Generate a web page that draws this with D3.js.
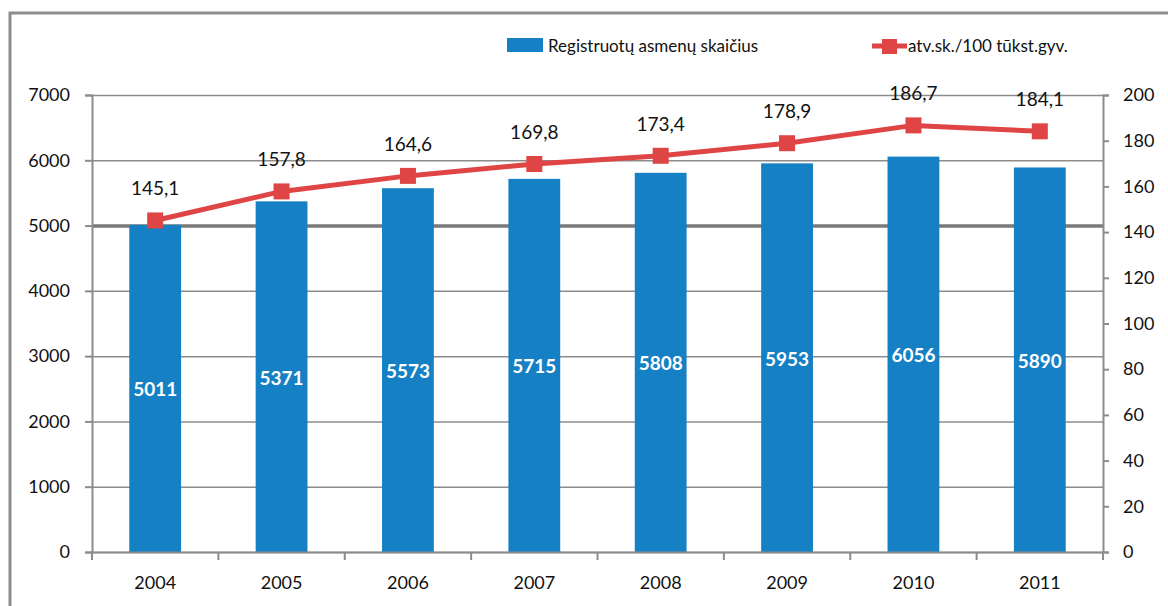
<!DOCTYPE html>
<html><head>
<meta charset="utf-8">
<script src="https://d3js.org/d3.v7.min.js"></script>
<style>
  body { margin: 0; background: #fff; }
  text { font-family: Lato, "Open Sans", sans-serif; fill: #111; }
  .gridlines line { stroke: #8c8c8c; stroke-width: 1.5; }
  .gridlines .domain { stroke: none; }
  .axis path, .axis line { stroke: #8c8c8c; stroke-width: 2; }
</style>
</head>
<body>
<svg id="svg1" width="1168" height="606"></svg>
<script>
const years = ["2004","2005","2006","2007","2008","2009","2010","2011"];
const persons = [5011, 5371, 5573, 5715, 5808, 5953, 6056, 5890];
const rate = [145.1, 157.8, 164.6, 169.8, 173.4, 178.9, 186.7, 184.1];
const leftTicks = [0,1000,2000,3000,4000,5000,6000,7000];
const rightTicks = [0,20,40,60,80,100,120,140,160,180,200];
const barName = "Registruotų asmenų skaičius";
const lineName = "atv.sk./100 tūkst.gyv.";

const svg = d3.select("#svg1");
const margins = {top: 95, right: 65, bottom: 54, left: 92};
const width = 1168 - margins.left - margins.right;
const height = 606 - margins.top - margins.bottom;
const blue = "#1680c4", red = "#e04545";

// outer frame
svg.append("rect").attr("x", 10).attr("y", 13).attr("width", 1180).attr("height", 620)
   .attr("fill", "none").attr("stroke", "#8c8c8c").attr("stroke-width", 3);

const chart = svg.append("g").attr("transform", `translate(${margins.left},${margins.top})`);

const xScale = d3.scaleBand().domain(years).range([0, width]).paddingInner(0.59).paddingOuter(0.295);
const yLeft = d3.scaleLinear().domain([0, 7000]).range([height, 0]);
const yRight = d3.scaleLinear().domain([0, 200]).range([height, 0]);

// gridlines
chart.append("g").attr("class", "gridlines")
  .call(d3.axisLeft(yLeft).tickValues(leftTicks).tickSize(-width).tickFormat(""))
  .selectAll("line")
  .style("stroke", d => d === 5000 ? "#7a7a7a" : null)
  .style("stroke-width", d => d === 5000 ? 3.5 : null);

// bars
chart.selectAll("rect.bar").data(persons).join("rect")
  .attr("class", "bar")
  .attr("x", (d, i) => xScale(years[i]))
  .attr("width", xScale.bandwidth())
  .attr("y", d => yLeft(d))
  .attr("height", d => height - yLeft(d))
  .attr("fill", blue);

chart.selectAll("text.barlab").data(persons).join("text")
  .attr("class", "barlab")
  .attr("x", (d, i) => xScale(years[i]) + xScale.bandwidth() / 2)
  .attr("y", d => (yLeft(d) + height) / 2 + 8)
  .attr("text-anchor", "middle")
  .style("fill", "#fff").style("font-size", "19px").style("font-weight", "bold")
  .text(d => d);

// axes
chart.append("g").attr("class", "axis")
  .call(d3.axisLeft(yLeft).tickValues(leftTicks).tickSize(7).tickPadding(15).tickFormat(d => "" + d))
  .call(g => g.selectAll("text").style("font-size", "18px"));

const stepX = width / years.length;
chart.append("g").attr("class", "axis")
  .attr("transform", `translate(0,${height})`)
  .call(d3.axisBottom(xScale).tickSize(0).tickPadding(24))
  .call(g => g.selectAll("text").style("font-size", "18px"))
  .call(g => g.selectAll("line.sep").data(d3.range(years.length + 1)).join("line")
    .attr("class", "sep").attr("x1", d => d * stepX).attr("x2", d => d * stepX)
    .attr("y1", 0).attr("y2", 8));

chart.append("g").attr("class", "axis")
  .attr("transform", `translate(${width},0)`)
  .call(d3.axisRight(yRight).tickValues(rightTicks).tickSize(6).tickPadding(14))
  .call(g => g.selectAll("text").style("font-size", "18px"));

// line
const lineGen = d3.line()
  .x((d, i) => xScale(years[i]) + xScale.bandwidth() / 2)
  .y(d => yRight(d));

chart.append("path").datum(rate)
  .attr("fill", "none").attr("stroke", red).attr("stroke-width", 5)
  .attr("d", lineGen);

chart.selectAll("rect.mark").data(rate).join("rect")
  .attr("class", "mark")
  .attr("x", (d, i) => xScale(years[i]) + xScale.bandwidth() / 2 - 8)
  .attr("y", d => yRight(d) - 8)
  .attr("width", 16).attr("height", 16)
  .attr("fill", red);

chart.selectAll("text.linelab").data(rate).join("text")
  .attr("class", "linelab")
  .attr("x", (d, i) => xScale(years[i]) + xScale.bandwidth() / 2)
  .attr("y", d => yRight(d) - 25)
  .attr("text-anchor", "middle")
  .style("font-size", "19px")
  .text(d => d.toFixed(1).replace(".", ","));

// legend
const legend = svg.append("g");
legend.append("rect").attr("x", 507).attr("y", 38).attr("width", 36).attr("height", 14).attr("fill", blue);
legend.append("text").attr("x", 548).attr("y", 52).style("font-size", "17px").text(barName);
legend.append("line").attr("x1", 872).attr("x2", 907).attr("y1", 46).attr("y2", 46)
  .attr("stroke", red).attr("stroke-width", 5);
legend.append("rect").attr("x", 882).attr("y", 39).attr("width", 15).attr("height", 15).attr("fill", red);
legend.append("text").attr("x", 908).attr("y", 52).style("font-size", "17px").text(lineName);
</script>
</body>
</html>
